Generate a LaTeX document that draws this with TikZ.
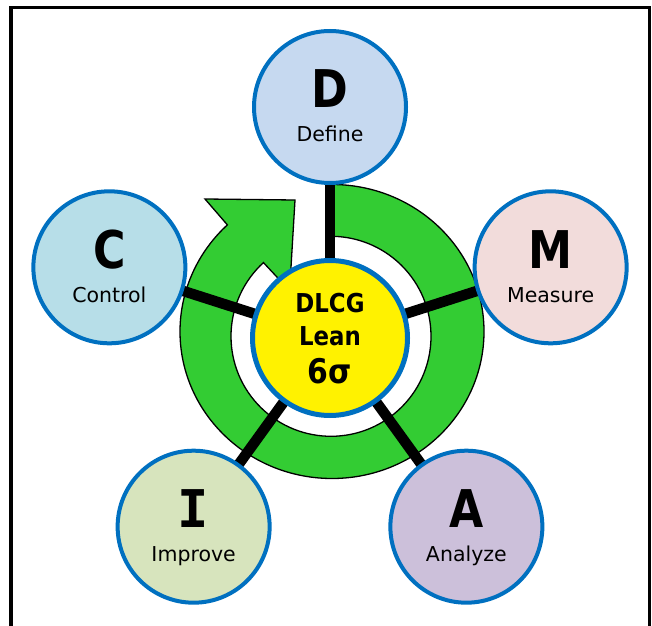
\documentclass[tikz,border=0pt]{standalone}
\usepackage{fontspec}
\setmainfont{DejaVu Sans}
\newfontfamily\capfont[FakeStretch=0.85]{DejaVu Sans}
\newfontfamily\hubfont[FakeStretch=0.88]{DejaVu Sans}
\newfontfamily\slabfont{DejaVu Sans Mono}
\usetikzlibrary{calc}
\definecolor{rimblue}{HTML}{0070C0}
\definecolor{cyclegreen}{HTML}{33CC33}
\definecolor{dfill}{HTML}{C6D9F0}
\definecolor{mfill}{HTML}{F2DCDB}
\definecolor{afill}{HTML}{CCC0DA}
\definecolor{ifill}{HTML}{D7E4BD}
\definecolor{cfill}{HTML}{B7DEE8}
\pgfdeclarelayer{cyclelayer}
\pgfdeclarelayer{spokelayer}
\pgfsetlayers{cyclelayer,spokelayer,main}
\begin{document}
\begin{tikzpicture}[x=1pt,y=1pt,
  phase/.style={circle, draw=rimblue, line width=4pt, minimum size=152pt, inner sep=0pt},
  letter/.style={anchor=base, inner sep=0pt, font=\capfont\bfseries\fontsize{52}{52}\selectfont},
  slabletter/.style={anchor=base, inner sep=0pt, font=\slabfont\bfseries\fontsize{52}{52}\selectfont},
  caption/.style={anchor=base, inner sep=0pt, font=\fontsize{20.5}{20.5}\selectfont},
  hubtext/.style={anchor=base, inner sep=0pt, font=\hubfont\bfseries\fontsize{26}{26}\selectfont},
  spoke/.style={line width=10.5pt},
  ]
\useasboundingbox (0,0) rectangle (652,625);

% open frame (no bottom edge)
\draw[line width=3.5pt, line join=miter] (11,-10) -- (11,617.5) -- (649.5,617.5) -- (649.5,-10);

% centre hub
\node[circle, draw=rimblue, line width=5pt, fill=yellow, minimum size=155pt, inner sep=0pt] (hub) at (330,287) {};
\node[hubtext] (hub1) at ($(hub)+(0,25.3)$) {DLCG};
\node[hubtext] (hub2) at ($(hub)+(0,-7)$) {Lean};
\node[hubtext, font=\hubfont\bfseries\fontsize{34}{34}\selectfont] (hub3) at ($(hub)+(0,-45.3)$) {6σ};

% the five DMAIC phases on a pentagon
\coordinate (o) at (330,286);
\node[phase, fill=dfill] (d) at ($(o)+(90:232)$) {};
\node[phase, fill=mfill] (m) at ($(o)+(18:232)$) {};
\node[phase, fill=afill] (a) at ($(o)+(-54:232)$) {};
\node[phase, fill=ifill] (i) at ($(o)+(-126:232)$) {};
\node[phase, fill=cfill] (c) at ($(o)+(162:232)$) {};

\node[letter] (dl) at ($(d)+(0,-1)$) {D};
\node[caption] (dt) at ($(d)+(0,-35)$) {Define};
\node[letter] (ml) at ($(m)+(0,-1)$) {M};
\node[caption] (mt) at ($(m)+(0,-35)$) {Measure};
\node[letter] (al) at ($(a)+(0,-1)$) {A};
\node[caption] (at) at ($(a)+(0,-35)$) {Analyze};
\node[slabletter] (il) at ($(i)+(0,-1)$) {I};
\node[caption] (it) at ($(i)+(0,-35)$) {Improve};
\node[letter] (cl) at ($(c)+(0,-1)$) {C};
\node[caption] (ct) at ($(c)+(0,-35)$) {Control};

% spokes from the hub to each phase
\begin{pgfonlayer}{spokelayer}
  \foreach \p in {d,m,a,i,c}
    \draw[spoke] (hub.center) -- (\p.center);
\end{pgfonlayer}

% circular arrow running clockwise round the hub
\begin{pgfonlayer}{cyclelayer}
  \coordinate (outerc) at (332,293.5);
  \coordinate (innerc) at (331,288.7);
  \draw[fill=cyclegreen, line width=1.3pt, line join=miter]
    ($(outerc)+(89.2:152 and 147)$)
      arc[start angle=89.2, end angle=-226.5, x radius=152, y radius=147]
    -- (205,426) -- (295,425) -- (289.6,334.4)
    -- ($(innerc)+(132.5:100)$)
      arc[start angle=132.5, end angle=448.3, radius=100]
    -- cycle;
\end{pgfonlayer}
\end{tikzpicture}
\end{document}
